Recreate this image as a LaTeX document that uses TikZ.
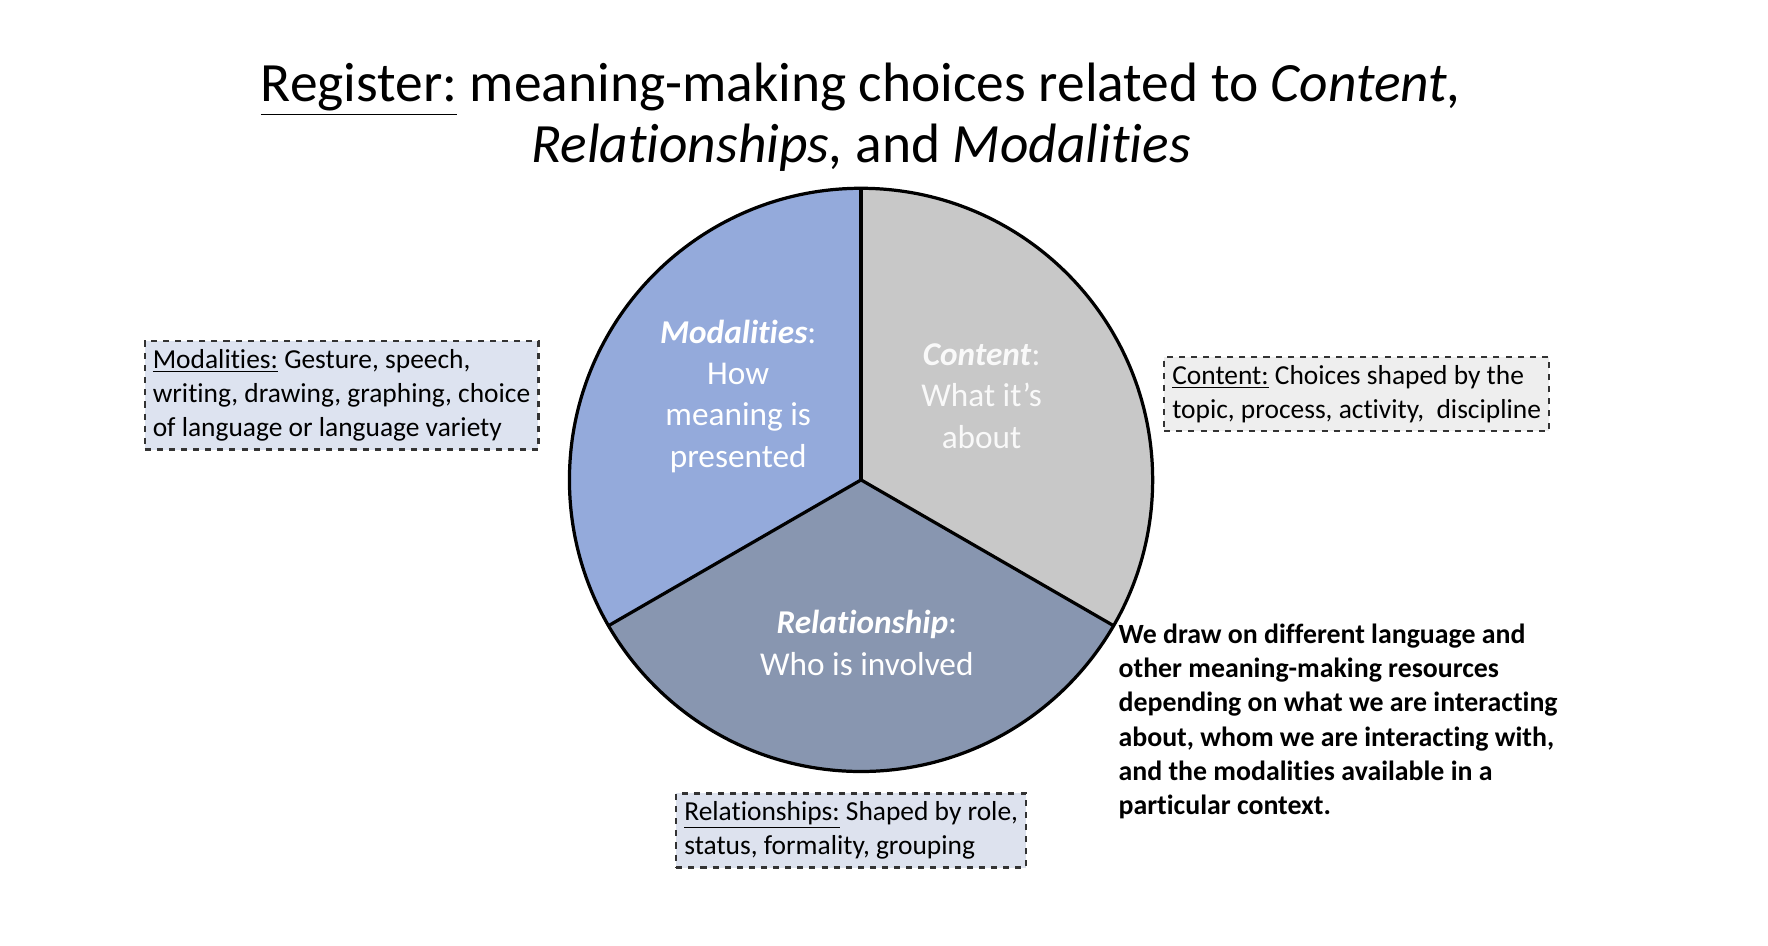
\documentclass[tikz,border=0pt]{standalone}
\usepackage{fontspec}
\setmainfont{Carlito}[Ligatures=NoCommon]
\newcommand{\ul}[1]{\underline{#1}}
\definecolor{modc}{HTML}{94AADB}
\definecolor{conc}{HTML}{C8C8C8}
\definecolor{relc}{HTML}{8896B0}
\definecolor{modbox}{HTML}{DDE3F0}
\definecolor{conbox}{HTML}{EEEEEE}
\definecolor{relbox}{HTML}{DDE2EE}
\begin{document}
\begin{tikzpicture}[x=0.02cm,y=-0.02cm,
  infobox/.style={draw=black!80,dashed,line width=1.2pt,inner sep=4pt,align=left,font=\fontsize{13.6}{17}\selectfont,anchor=north west},
  slice/.style={draw=black,line width=1.6pt},
  slicetext/.style={text=white,align=center,font=\fontsize{16.5}{20.5}\selectfont}]
\useasboundingbox (0,0) rectangle (1540,824);
\node (title) at (750,102) [align=center,font=\fontsize{27.5}{30}\selectfont] {\ul{Register:} meaning-making choices related to \textit{Content,}\\ \textit{Relationships,} and \textit{Modalities}};
\coordinate (c) at (750,418);
\begin{scope}[shift={(c)},x=0.02cm,y=0.02cm]
\fill[modc] (0,0) -- (90:254) arc[start angle=90,end angle=210,radius=254] -- cycle;
\fill[conc] (0,0) -- (90:254) arc[start angle=90,end angle=-30,radius=254] -- cycle;
\fill[relc] (0,0) -- (210:254) arc[start angle=210,end angle=330,radius=254] -- cycle;
\draw[slice] (0,0) circle[radius=254];
\draw[slice] (0,0) -- (90:254);
\draw[slice] (0,0) -- (210:254);
\draw[slice] (0,0) -- (330:254);
\end{scope}
\node[slicetext] (modt) at (643,345) {\textbf{\textit{Modalities}}:\\How\\meaning is\\presented};
\node[slicetext,text=white!95!gray] (cont) at (855,345) {\textbf{\textit{Content}}:\\What it's\\about};
\node[slicetext] (relt) at (755,560) {\textbf{\textit{Relationship}}:\\Who is involved};
\node[infobox,fill=modbox] (mb) at (125,296) {\ul{Modalities:} Gesture, speech,\\writing, drawing, graphing, choice\\of language or language variety};
\node[infobox,fill=conbox] (cb) at (1013,310) {\ul{Content:} Choices shaped by the\\topic, process, activity,\ \ discipline};
\node[infobox,fill=relbox] (rb) at (588,690) {\ul{Relationships:} Shaped by role,\\status, formality, grouping};
\node[anchor=north west,align=left,font=\bfseries\fontsize{13.8}{17}\selectfont,inner sep=0pt] (note) at (974,543) {We draw on different language and\\other meaning-making resources\\depending on what we are interacting\\about, whom we are interacting with,\\and the modalities available in a\\particular context.};
\end{tikzpicture}
\end{document}
